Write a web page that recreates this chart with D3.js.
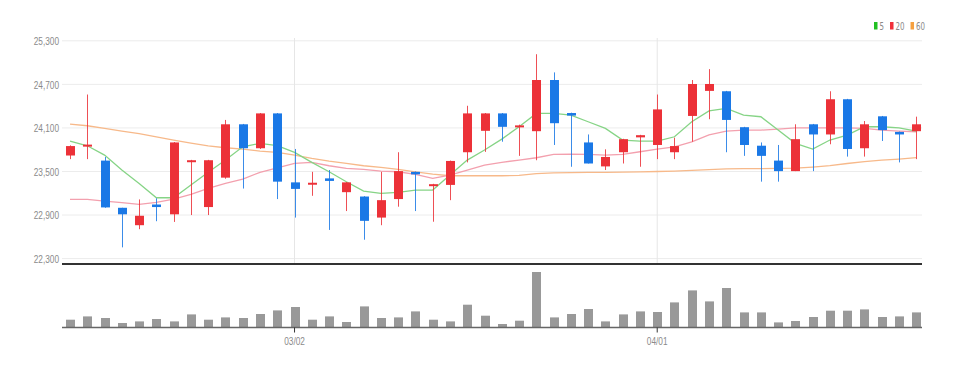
<!DOCTYPE html>
<html><head><meta charset="utf-8">
<script src="https://cdn.jsdelivr.net/npm/d3@7"></script>
<style>
html,body{margin:0;padding:0;background:#fff;}
svg{display:block;font-family:"Liberation Sans Narrow","Arial Narrow","DejaVu Sans Condensed","Liberation Sans",sans-serif;}
</style></head><body>
<svg id="c" width="959" height="368"></svg>
<script>
const dates = ["02/10","02/11","02/14","02/15","02/16","02/17","02/18","02/21","02/22","02/23","02/24","02/25","02/28",
"03/02","03/03","03/04","03/07","03/08","03/10","03/11","03/14","03/15","03/16","03/17","03/18","03/21","03/22","03/23","03/24","03/25","03/28","03/29","03/30","03/31",
"04/01","04/04","04/05","04/06","04/07","04/08","04/11","04/12","04/13","04/14","04/15","04/18","04/19","04/20","04/21","04/22"];
const open  = [23720,23845,23650,23000,22760,23045,22910,23635,23010,23415,24150,23820,24300,23350,23320,23405,23215,23155,22865,23120,23495,23305,23315,23765,24060,
24300,24110,24055,24760,24305,23900,23570,23765,23970,23865,23765,24265,24610,24605,24110,23855,23650,23505,24150,24010,24495,23820,24260,24045,24055];
const close = [23850,23870,23005,22910,22890,23010,23900,23655,23655,24150,23820,24300,23360,23260,23345,23370,23350,22820,23105,23505,23460,23325,23645,24300,24300,
24115,24135,24760,24165,24270,23610,23700,23945,24000,24355,23850,24705,24705,24210,23865,23715,23505,23945,24010,24495,23810,24150,24070,24010,24150];
const high  = [23860,24560,23700,23000,23115,23130,23905,23660,23660,24210,24155,24305,24305,23810,23495,23520,23355,23160,23495,23765,23500,23330,23650,24405,24305,
24305,24145,25115,24865,24310,24010,23805,23950,24005,24560,23965,24760,24910,24610,24115,23900,23865,24150,24155,24605,24500,24195,24265,24050,24255];
const low   = [23670,23670,23000,22455,22705,22815,22805,22900,22900,23400,23265,23810,23120,22865,23165,22695,22955,22560,22760,23015,22955,22808,23105,23625,23770,
23910,23715,23655,23865,23565,23610,23520,23610,23565,23670,23670,23910,24220,23765,23715,23360,23360,23505,23505,23875,23705,23705,23920,23625,23670];
const ma5  = [23919,23854,23726,23520,23336,23138,23138,23313,23488,23657,23840,23887,23857,23763,23626,23496,23359,23230,23199,23212,23244,23244,23451,23657,23795,
23946,24116,24300,24300,24277,24185,24094,23933,23919,23919,23978,24185,24335,24369,24277,24254,24070,23887,23809,23933,24001,24116,24116,24102,24057];
const ma20 = [23116,23116,23093,23070,23047,23075,23120,23185,23268,23336,23396,23488,23550,23612,23626,23579,23543,23529,23506,23496,23460,23405,23451,23520,23588,
23626,23657,23689,23736,23740,23736,23726,23736,23772,23809,23840,23909,24005,24057,24070,24070,24084,24102,24102,24102,24102,24094,24070,24057,24047];
const ma60 = [24153,24130,24094,24057,24020,23978,23933,23891,23854,23827,23809,23781,23763,23726,23681,23643,23612,23579,23557,23529,23496,23464,23441,23441,23441,
23441,23445,23470,23480,23485,23488,23488,23490,23495,23500,23505,23515,23525,23535,23538,23540,23542,23545,23560,23580,23610,23635,23655,23670,23690];
const volume = [73000,106000,90000,40000,56000,80000,56000,126000,73000,96000,90000,130000,166000,200000,73000,106000,50000,206000,90000,96000,156000,73000,56000,223000,113000,
30000,63000,550000,96000,130000,180000,56000,126000,156000,150000,246000,366000,256000,390000,146000,146000,46000,60000,100000,163000,163000,176000,100000,106000,146000];
const priceTicks = [22300,22900,23500,24100,24700,25300];
const dateTicks = ["03/02","04/01"];
const legendItems = [{label:"5",color:"#22c022"},{label:"20",color:"#f0303a"},{label:"60",color:"#f5a040"}];

const svg = d3.select("#c");
const x = d3.scaleBand().domain(dates).range([61.4, 924.9]).padding(0);
const cx = d => x(d) + x.bandwidth()/2;
const y = d3.scaleLinear().domain([22300, 25300]).range([258.6, 40.8]);
const yv = d3.scaleLinear().domain([0, 550000]).range([327, 272]);
const bw = x.bandwidth()*0.52;
const UP = "#ec3138", DOWN = "#1a78e6";

function squeeze(sel, k){
  sel.each(function(){
    const n = this, L = n.getComputedTextLength();
    if (L > 0) { n.setAttribute("textLength", (L*k).toFixed(2)); n.setAttribute("lengthAdjust","spacingAndGlyphs"); }
  });
}

// horizontal grid
svg.append("g").selectAll("line").data(priceTicks).join("line")
  .attr("x1", 62).attr("x2", 922).attr("y1", d=>y(d)).attr("y2", d=>y(d))
  .attr("stroke", "#ececec").attr("stroke-width", 1);
// vertical grid at date ticks
svg.append("g").selectAll("line").data(dateTicks).join("line")
  .attr("x1", d=>cx(d)).attr("x2", d=>cx(d)).attr("y1", 38).attr("y2", 263)
  .attr("stroke", "#e6e6e6").attr("stroke-width", 1);

// y axis labels
const ya = svg.append("g").attr("transform","translate(62,0)")
  .call(d3.axisLeft(y).tickValues(priceTicks).tickFormat(d3.format(",")).tickSize(0).tickPadding(3));
ya.select(".domain").remove();
ya.selectAll("text").attr("fill","#8a8a8a").style("font-size","11.5px").style("font-family","inherit");
squeeze(ya.selectAll("text"), 0.72);

// separator
svg.append("line").attr("x1",62).attr("x2",922).attr("y1",264).attr("y2",264).attr("stroke","#333").attr("stroke-width",2);

// MA lines
const series = [[ma60,"#f7b98a"],[ma20,"#f3a0ae"],[ma5,"#86d486"]];
series.forEach(([arr,col])=>{
  svg.append("path").datum(arr)
    .attr("fill","none").attr("stroke",col).attr("stroke-width",1.3)
    .attr("d", d3.line().x((d,i)=>cx(dates[i])).y(d=>y(d)));
});

// candles
const cd = dates.map((d,i)=>({d,o:open[i],c:close[i],h:high[i],l:low[i]}));
const cg = svg.append("g");
cg.selectAll("line").data(cd).join("line")
  .attr("x1",d=>Math.round(cx(d.d))+0.5).attr("x2",d=>Math.round(cx(d.d))+0.5)
  .attr("y1",d=>y(d.h)).attr("y2",d=>y(d.l))
  .attr("stroke",d=>d.c>=d.o?UP:DOWN).attr("stroke-width",1).attr("opacity",0.85);
cg.selectAll("rect").data(cd).join("rect")
  .attr("x",d=>Math.round(cx(d.d))+0.5-bw/2).attr("width",bw)
  .attr("y",d=>y(Math.max(d.o,d.c)))
  .attr("height",d=>Math.max(2, Math.abs(y(d.o)-y(d.c))))
  .attr("fill",d=>d.c>=d.o?UP:DOWN);

// volume
svg.append("g").selectAll("rect").data(dates).join("rect")
  .attr("x",(d)=>Math.round(cx(d))+0.5-bw/2).attr("width",bw)
  .attr("y",(d,i)=>yv(volume[i])).attr("height",(d,i)=>yv(0)-yv(volume[i]))
  .attr("fill","#999");
svg.append("line").attr("x1",62).attr("x2",922).attr("y1",327.5).attr("y2",327.5).attr("stroke","#666").attr("stroke-width",1.5);

// x axis
const xa = svg.append("g").attr("transform","translate(0,327.5)")
  .call(d3.axisBottom(x).tickValues(dateTicks).tickSize(5).tickPadding(4));
xa.select(".domain").remove();
xa.selectAll("line").attr("stroke","#333");
xa.selectAll("text").attr("fill","#8a8a8a").style("font-size","11.5px").style("font-family","inherit");
squeeze(xa.selectAll("text"), 0.72);

// legend
const lg = svg.append("g");
let lx = 874;
legendItems.forEach(it=>{
  lg.append("rect").attr("x",lx).attr("y",22).attr("width",3.5).attr("height",7.5).attr("fill",it.color);
  const t = lg.append("text").attr("x",lx+5.5).attr("y",29.5).attr("fill","#8a8a8a")
    .style("font-size","10.5px").text(it.label);
  squeeze(t, 0.75);
  lx += 5.5 + t.node().getComputedTextLength() + 6;
});
</script>
</body></html>
